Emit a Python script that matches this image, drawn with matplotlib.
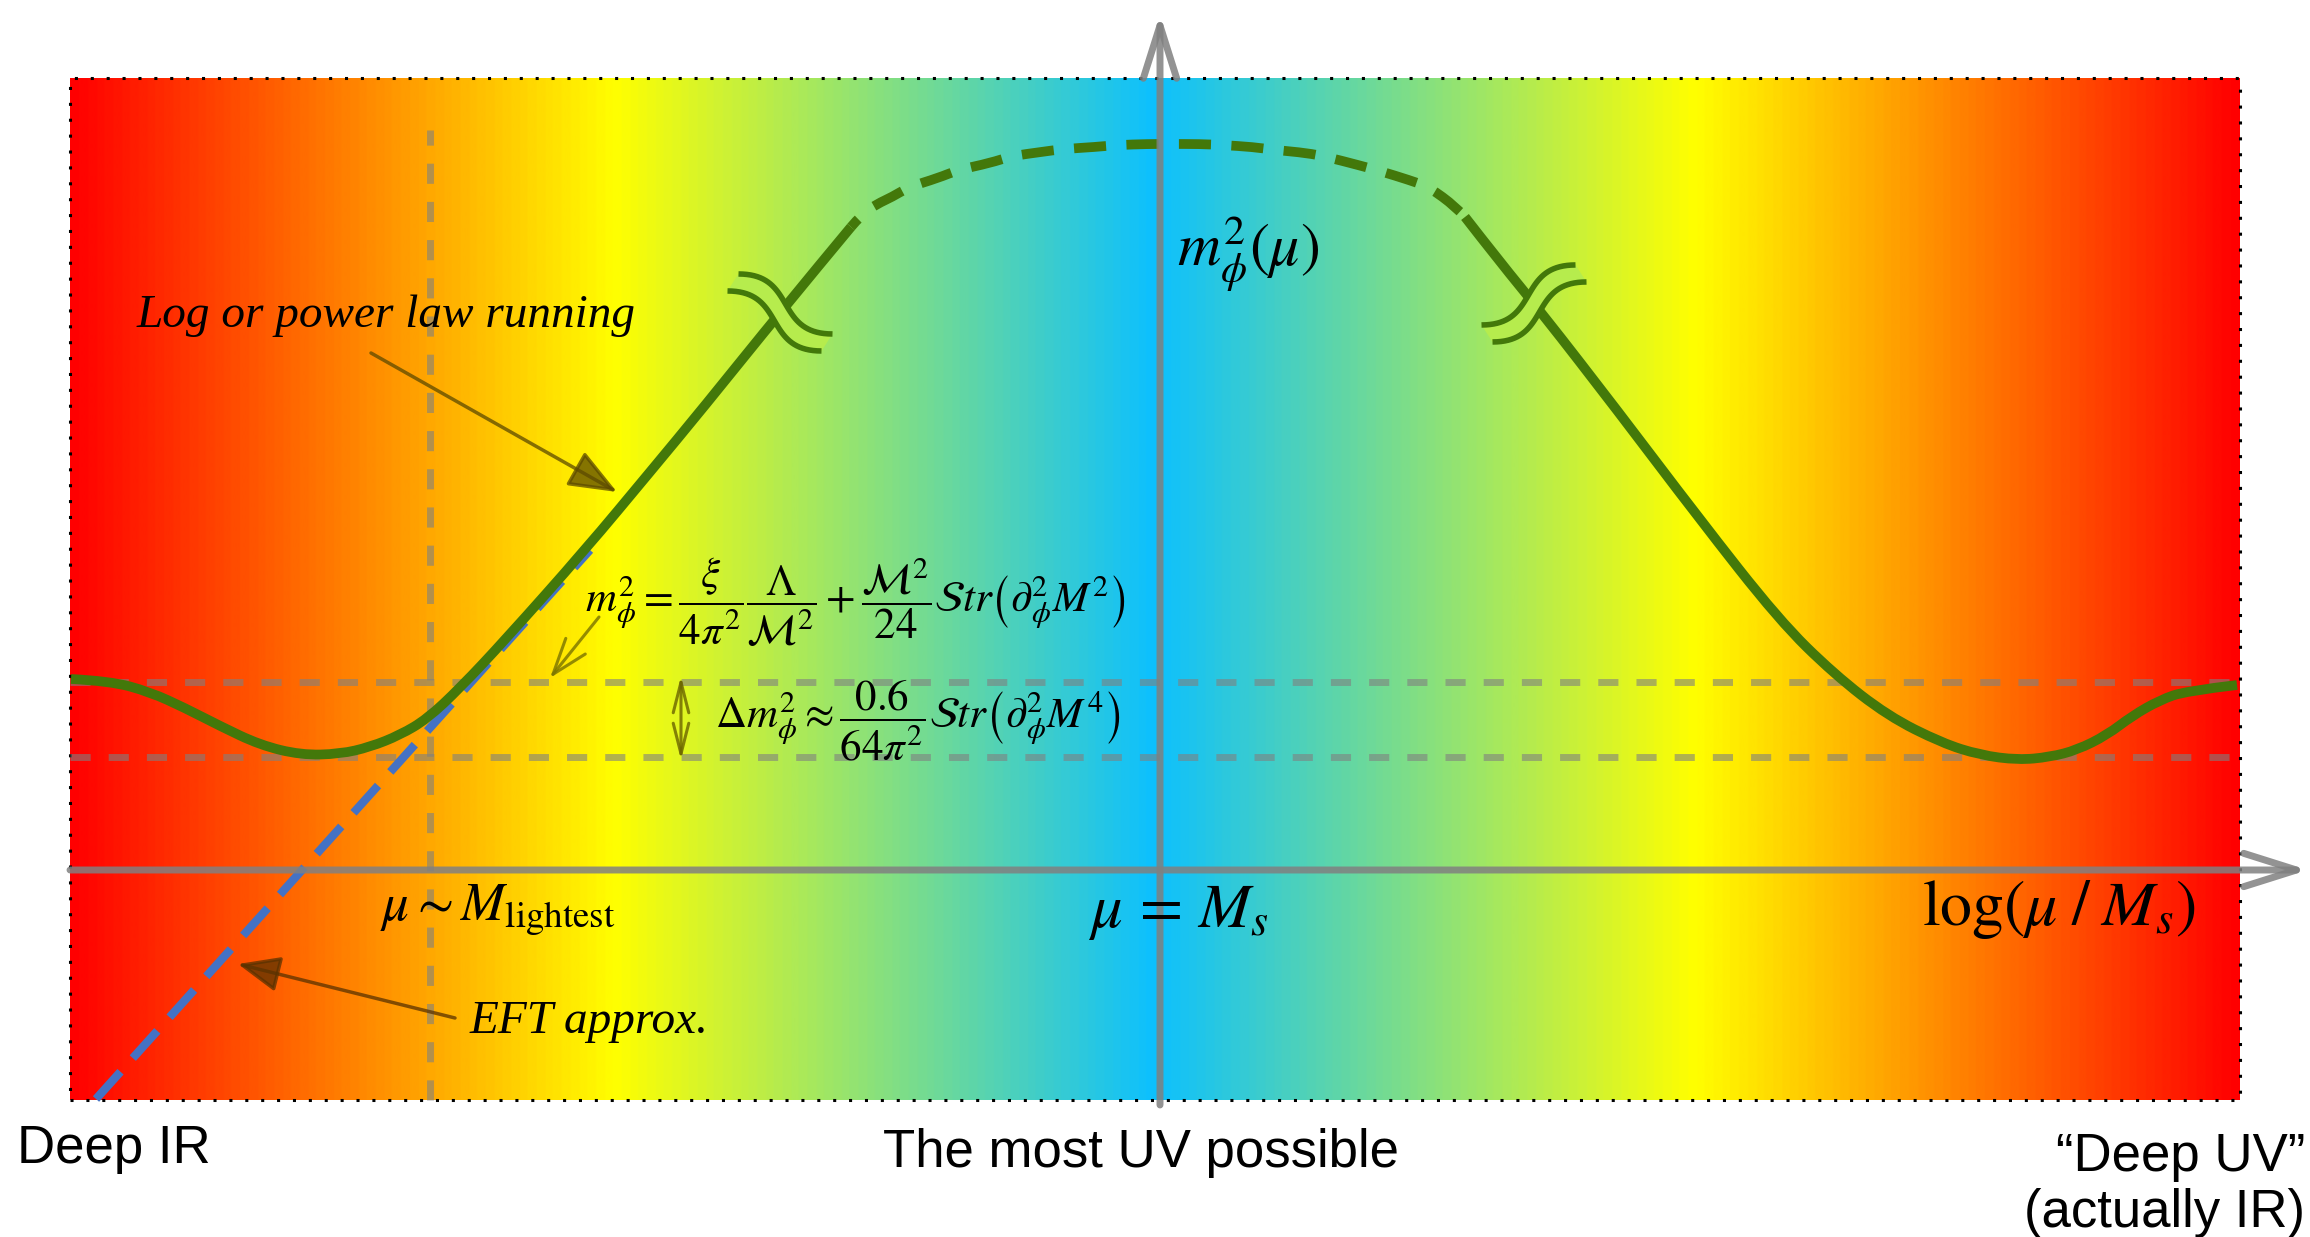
import numpy as np
import matplotlib
matplotlib.use("Agg")
import matplotlib.pyplot as plt
from matplotlib.colors import LinearSegmentedColormap
from matplotlib.path import Path
from matplotlib.patches import PathPatch, Rectangle, Polygon

plt.rcParams['mathtext.fontset'] = 'stix'

# ---------------- data (x = log(mu/Ms), y = m_phi^2, arbitrary units) ----------------
left_x = [-10.89, -10.50, -10.10, -9.75, -9.40, -9.00, -8.59, -8.20, -7.90, -7.60, -7.33,
          -7.00, -6.55, -5.75, -5.10, -4.57, -3.78, -3.09]
left_y = [1.91, 1.89, 1.78, 1.62, 1.44, 1.25, 1.15, 1.16, 1.23, 1.35, 1.51,
          1.82, 2.30, 3.20, 3.98, 4.62, 5.60, 6.43]

arc_x = [-3.09, -2.98, -2.83, -2.68, -2.51, -2.22, -2.02, -1.70, -1.48, -1.19, -0.97, -0.65,
         -0.43, -0.12, 0.08, 0.40, 0.62, 0.93, 1.15, 1.47, 1.67, 1.98, 2.20, 2.49, 2.69, 2.96, 3.05]
arc_y = [6.43, 6.56, 6.66, 6.73, 6.83, 6.92, 7.00, 7.07, 7.14, 7.18, 7.21, 7.23,
         7.25, 7.26, 7.26, 7.26, 7.25, 7.23, 7.20, 7.17, 7.13, 7.05, 6.99, 6.90, 6.83, 6.63, 6.53]

right_x = [3.05, 3.40, 3.81, 4.57, 5.38, 6.19, 6.74, 7.28, 7.82, 8.20, 8.58, 8.90, 9.17,
           9.47, 9.72, 10.00, 10.26, 10.77]
right_y = [6.53, 6.08, 5.58, 4.60, 3.53, 2.50, 1.96, 1.54, 1.27, 1.15, 1.10, 1.13, 1.20,
           1.35, 1.54, 1.70, 1.79, 1.85]

eft_x = [-10.64, -5.70]
eft_y = [-2.29, 3.20]

upper_level = 1.88
lower_level = 1.13
lightest_x = -7.30
break_x = [-3.80, 3.74]

# ---------------- layout ----------------
X0, X1, Y0, Y1 = -10.90, 10.80, -2.30, 7.92   # coloured panel

fig = plt.figure(figsize=(23.10, 12.37), dpi=100)
ax = fig.add_axes([0, 0, 1, 1])
ax.set_xlim(-11.60, 11.50)
ax.set_ylim(-3.67, 8.70)
ax.axis('off')

cmap = LinearSegmentedColormap.from_list(
    'irv', [(0.0, (1, 0, 0)), (0.25, (1, 1, 0)), (0.5, (12/255, 192/255, 1.0)),
            (0.75, (1, 1, 0)), (1.0, (1, 0, 0))])
ax.imshow(np.linspace(0, 1, 1200)[None, :], cmap=cmap, extent=[X0, X1, Y0, Y1],
          aspect='auto', interpolation='bilinear', zorder=0)
ax.add_patch(Rectangle((X0, Y0), X1 - X0, Y1 - Y0, fill=False, edgecolor='black',
                       lw=2.2, linestyle=(0, (1, 4.2)), zorder=1))

# grey dashed guide lines
gkw = dict(color='#808080', alpha=0.6, lw=5, linestyle=(0, (2.9, 2.6)), zorder=2)
ax.plot([X0, X1], [upper_level, upper_level], **gkw)
ax.plot([X0, X1], [lower_level, lower_level], **gkw)
ax.plot([lightest_x, lightest_x], [Y0, 7.40], **gkw)


def smooth_path(xs, ys):
    """Quadratic B-spline style path through the sampled points (rendering only)."""
    p = np.column_stack([xs, ys])
    verts, codes = [p[0]], [Path.MOVETO]
    n = len(p)
    for i in range(1, n - 1):
        end = p[i + 1] if i == n - 2 else (p[i] + p[i + 1]) / 2
        verts += [p[i], end]
        codes += [Path.CURVE3, Path.CURVE3]
    return Path(verts, codes)


green = '#43780a'
LW = 7.0
# EFT line
ax.plot(eft_x, eft_y, color='#4472c4', lw=6.0, linestyle=(0, (4.4, 2.2)), zorder=3)
# curve
for xs, ys in [(left_x, left_y), (right_x, right_y)]:
    ax.add_patch(PathPatch(smooth_path(xs, ys), fill=False, edgecolor=green, lw=LW,
                           capstyle='butt', joinstyle='round', zorder=4))
ax.add_patch(PathPatch(smooth_path(arc_x, arc_y), fill=False, edgecolor=green, lw=LW,
                       linestyle=(2.2, (3.3, 2.1)), capstyle='butt', zorder=4))


def bez(p, n=40):
    t = np.linspace(0, 1, n)[:, None]
    p = np.asarray(p)
    return ((1 - t) ** 3) * p[0] + 3 * ((1 - t) ** 2) * t * p[1] + 3 * (1 - t) * t ** 2 * p[2] + t ** 3 * p[3]


def s_pts(cx, cy, w, h, s):
    return [(cx - w, cy + s * h), (cx + 0.25 * w, cy + s * h), (cx - 0.25 * w, cy - s * h), (cx + w, cy - s * h)]


for bx, curve_x, curve_y, s, off in [(break_x[0], left_x, left_y, 1, (0.055, 0.085)),
                                     (break_x[1], right_x, right_y, -1, (-0.055, 0.085))]:
    if s == 1:
        by = np.interp(bx, curve_x, curve_y)
    else:
        by = np.interp(-bx, [-v for v in curve_x[::-1]], curve_y[::-1])
    up = bez(s_pts(bx + off[0], by + off[1], 0.47, 0.30, s))
    lo = bez(s_pts(bx - off[0], by - off[1], 0.47, 0.30, s))
    col = cmap((bx - X0) / (X1 - X0))
    ax.add_patch(Polygon(np.vstack([up, lo[::-1]]), closed=True, facecolor=col, edgecolor='none', zorder=5))
    for c in (up, lo):
        ax.plot(c[:, 0], c[:, 1], color=green, lw=4.0, solid_capstyle='butt', zorder=6)

# axes with open arrow heads
axkw = dict(arrowstyle='->,head_length=1.9,head_width=0.6', color='#808080', alpha=0.85,
            lw=5, mutation_scale=20, shrinkA=0, shrinkB=0)
ax.annotate('', xy=(0, 8.56), xytext=(0, -2.35), arrowprops=axkw, zorder=7)
ax.annotate('', xy=(11.48, 0), xytext=(X0, 0), arrowprops=axkw, zorder=7)

# annotation arrows
ax.annotate('', xy=(-5.43, 3.78), xytext=(-7.89, 5.17),
            arrowprops=dict(arrowstyle='-|>,head_length=1.5,head_width=0.6', color='#5c4a00',
                            alpha=0.75, lw=2.5, mutation_scale=20, shrinkA=0, shrinkB=0), zorder=8)
ax.annotate('', xy=(-6.10, 1.92), xytext=(-5.61, 2.53),
            arrowprops=dict(arrowstyle='->,head_length=1.3,head_width=0.45', color='#7a7300',
                            alpha=0.8, lw=2.2, mutation_scale=20, shrinkA=0, shrinkB=0), zorder=8)
ax.annotate('', xy=(-4.79, lower_level - 0.03), xytext=(-4.79, upper_level + 0.06),
            arrowprops=dict(arrowstyle='<->,head_length=1.1,head_width=0.28', color='#6b6400',
                            alpha=0.8, lw=2.2, mutation_scale=20, shrinkA=0, shrinkB=0), zorder=8)
ax.annotate('', xy=(-9.22, -0.94), xytext=(-7.05, -1.48),
            arrowprops=dict(arrowstyle='-|>,head_length=1.3,head_width=0.55', color='#5a3200',
                            alpha=0.75, lw=2.5, mutation_scale=20, shrinkA=0, shrinkB=0), zorder=8)

# texts
ital = dict(family='Liberation Serif', style='italic', fontsize=34, zorder=9)
ax.text(-10.23, 5.43, 'Log or power law running', ha='left', va='baseline', **ital)
ax.text(-6.90, -1.63, 'EFT approx.', ha='left', va='baseline', **ital)

ax.text(-5.75, 2.68, r'$m_\phi^2=\dfrac{\xi}{4\pi^2}\dfrac{\mathit{\Lambda}}{\mathcal{M}^2}+\dfrac{\mathcal{M}^2}{24}\mathcal{S}tr\left(\partial_\phi^2 M^2\right)$',
        ha='left', va='center', fontsize=31, zorder=9)
ax.text(-4.45, 1.50, r'$\mathit{\Delta} m_\phi^2\approx\dfrac{0.6}{64\pi^2}\mathcal{S}tr\left(\partial_\phi^2 M^4\right)$',
        ha='left', va='center', fontsize=31, zorder=9)

ax.text(0.17, 6.03, r'$m_\phi^2(\mu)$', ha='left', va='baseline', fontsize=43, zorder=9)
ax.text(0.18, -0.57, r'$\mu\,=\,M_s$', ha='center', va='baseline', fontsize=45, zorder=9)
ax.text(-7.80, -0.50, r'$\mu{\sim}M_{\mathrm{lightest}}$', ha='left', va='baseline', fontsize=38, zorder=9)
ax.text(7.62, -0.55, r'$\log(\mu\;/\;M_s)$', ha='left', va='baseline', fontsize=46, zorder=9)

sans = dict(family='Liberation Sans', fontsize=38, zorder=9)
ax.text(-11.43, -2.79, 'Deep IR', ha='left', va='center', **sans)
ax.text(-0.19, -2.83, 'The most UV possible', ha='center', va='center', **sans)
ax.text(11.45, -2.87, '\u201cDeep UV\u201d', ha='right', va='center', **sans)
ax.text(11.45, -3.43, '(actually IR)', ha='right', va='center', **sans)

fig.savefig('out.png', dpi=100)
